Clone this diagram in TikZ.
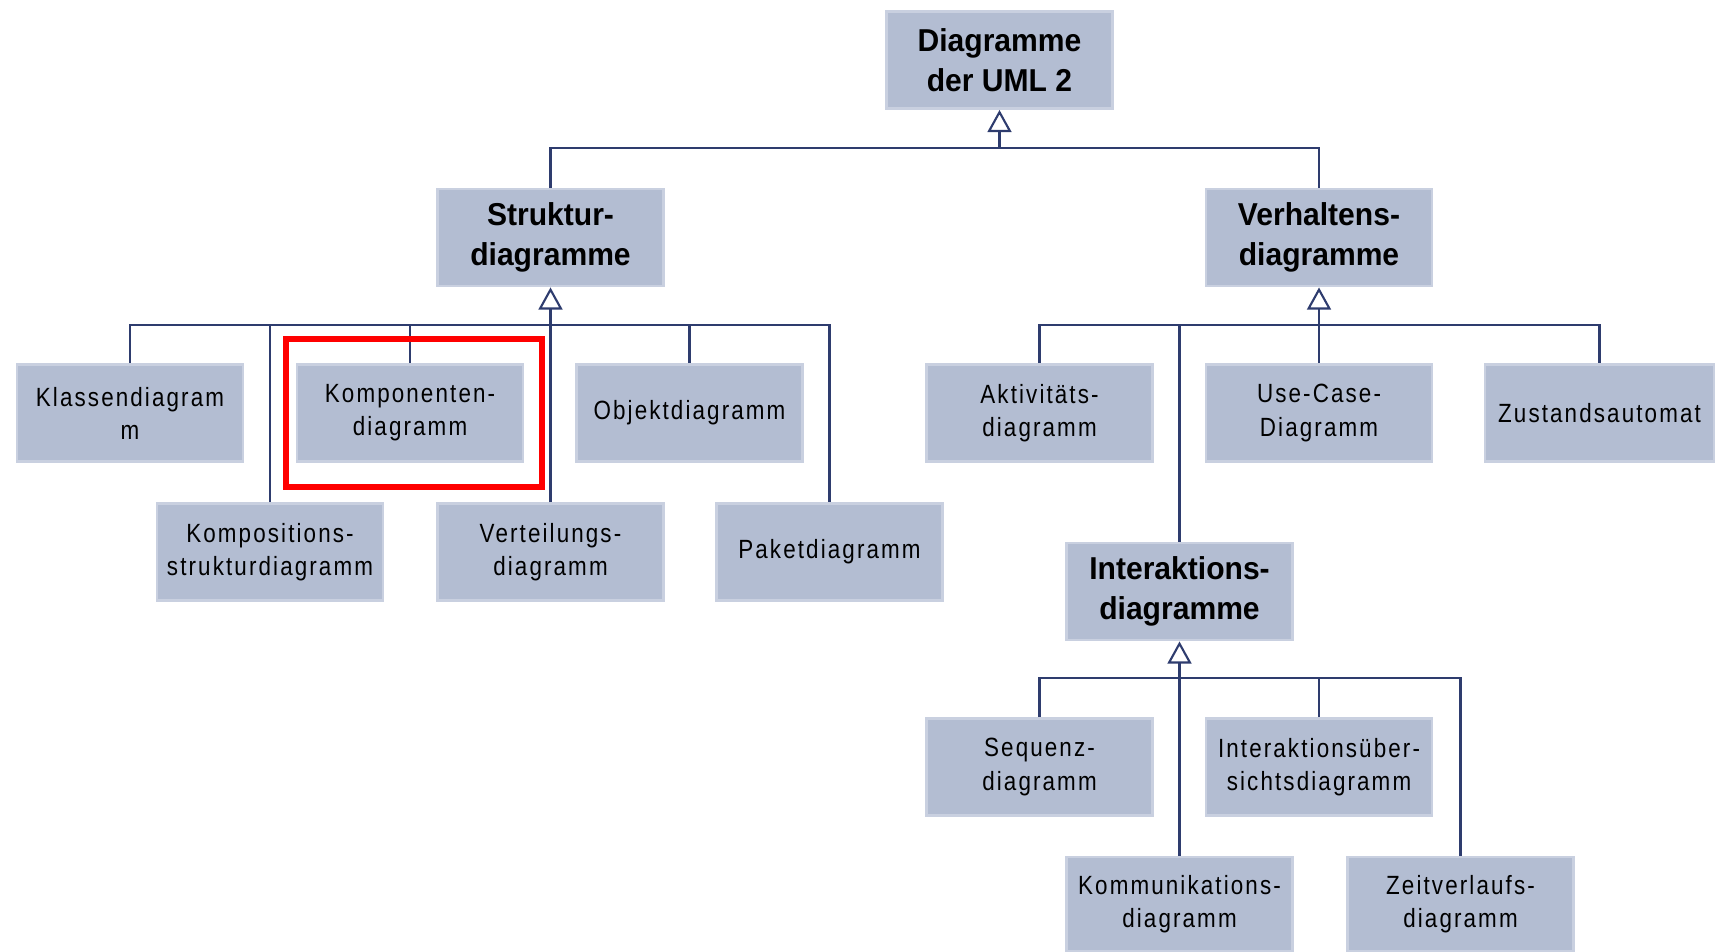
\documentclass[tikz,border=0pt]{standalone}
\usepackage{fontspec}
\setmainfont{Liberation Sans}
\newfontfamily\headfont[FakeStretch=0.95]{Liberation Sans}
\newfontfamily\leaffont[FakeStretch=0.85,LetterSpace=8]{Liberation Sans}
\usetikzlibrary{arrows.meta}
\definecolor{boxfill}{HTML}{B3BDD2}
\definecolor{boxedge}{HTML}{C9D0E0}
\definecolor{linkblue}{HTML}{2E3C6E}

\begin{document}
\begin{tikzpicture}[
    x=0.01cm, y=-0.01cm,
    every node/.style={fill=boxfill, draw=boxedge, line width=0.8pt, inner sep=0pt, align=center},
    head/.style={minimum width=2.26cm, minimum height=0.97cm, font=\headfont\bfseries\fontsize{9}{11.4}\selectfont},
    leaf/.style={minimum width=2.26cm, minimum height=0.97cm, font=\leaffont\fontsize{7.5}{9.4}\selectfont},
    link/.style={draw=linkblue, line width=0.6pt},
    isa/.style={link, -{Triangle[open, width=6.8pt, length=6.3pt]}},
    highlight/.style={draw=red, line width=1.9pt}
]
\useasboundingbox (0,0) rectangle (1721,951);

\node[head] (uml) at (999.5,60) {Diagramme\\der UML 2};
\node[head] (strukt) at (550.5,237.5) {Struktur-\\diagramme};
\node[head] (verh) at (1319,237.5) {Verhaltens-\\diagramme};

\node[leaf] (klassen) at (130,413) {Klassendiagram\\m};
\node[leaf] (kompon) at (410,413) {Komponenten-\\diagramm};
\node[leaf] (objekt) at (689.5,413) {Objektdiagramm};
\node[leaf] (komposit) at (270,552) {Kompositions-\\strukturdiagramm};
\node[leaf] (verteil) at (550.5,552) {Verteilungs-\\diagramm};
\node[leaf] (paket) at (829.5,552) {Paketdiagramm};

\node[leaf] (aktiv) at (1039.5,413) {Aktivitäts-\\diagramm};
\node[leaf] (usecase) at (1319,413) {Use-Case-\\Diagramm};
\node[leaf, minimum width=2.29cm] (zustand) at (1599.5,413) {Zustandsautomat};
\node[head] (interakt) at (1179.5,591.5) {Interaktions-\\diagramme};

\node[leaf] (sequenz) at (1039.5,767) {Sequenz-\\diagramm};
\node[leaf] (interue) at (1319,767) {Interaktionsüber-\\sichtsdiagramm};
\node[leaf, minimum height=0.94cm] (kommun) at (1179.5,904) {Kommunikations-\\diagramm};
\node[leaf, minimum height=0.94cm] (zeit) at (1460.5,904) {Zeitverlaufs-\\diagramm};

\coordinate (bus0) at (0,148);
\coordinate (bus1) at (0,325);
\coordinate (bus2) at (0,678);

\draw[link] (strukt.north) |- (uml.south |- bus0) -| (verh.north);
\draw[isa] (uml.south |- bus0) -- (uml.south);

\draw[link] (klassen.north) |- (strukt.south |- bus1) -| (paket.north);
\draw[isa] (strukt.south |- bus1) -- (strukt.south);
\foreach \n in {kompon, objekt, komposit, verteil}
    \draw[link] (\n.north) -- (\n.north |- bus1);

\draw[link] (aktiv.north) |- (verh.south |- bus1) -| (zustand.north);
\draw[isa] (verh.south |- bus1) -- (verh.south);
\foreach \n in {usecase, interakt}
    \draw[link] (\n.north) -- (\n.north |- bus1);

\draw[link] (sequenz.north) |- (interakt.south |- bus2) -| (zeit.north);
\draw[isa] (interakt.south |- bus2) -- (interakt.south);
\foreach \n in {interue, kommun}
    \draw[link] (\n.north) -- (\n.north |- bus2);

\draw[highlight] (286,339) rectangle (542,487);
\end{tikzpicture}
\end{document}
